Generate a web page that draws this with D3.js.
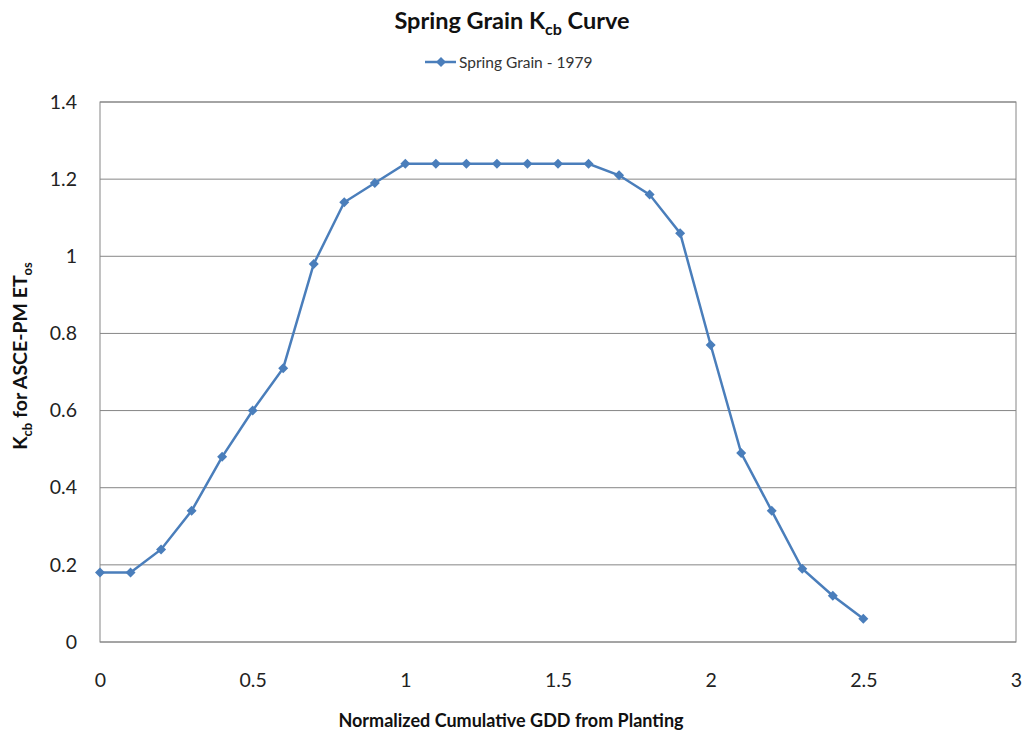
<!DOCTYPE html>
<html><head><meta charset="utf-8">
<script src="https://cdn.jsdelivr.net/npm/d3@7"></script>
<style>body{margin:0;background:#fff;}svg{font-family:Lato,"Open Sans",sans-serif;}</style>
</head><body><svg id="c" width="1023" height="736"></svg>
<script>
const xValues = [0,0.1,0.2,0.3,0.4,0.5,0.6,0.7,0.8,0.9,1.0,1.1,1.2,1.3,1.4,1.5,1.6,1.7,1.8,1.9,2.0,2.1,2.2,2.3,2.4,2.5];
const kcbValues = [0.18,0.18,0.24,0.34,0.48,0.60,0.71,0.98,1.14,1.19,1.24,1.24,1.24,1.24,1.24,1.24,1.24,1.21,1.16,1.06,0.77,0.49,0.34,0.19,0.12,0.06];
const xTicks = [0,0.5,1,1.5,2,2.5,3];
const yTicks = [0,0.2,0.4,0.6,0.8,1,1.2,1.4];
const seriesName = "Spring Grain - 1979";

const svg = d3.select("#c");
const L=100,R=1016,T=102,B=642;
const x = d3.scaleLinear().domain([0,3]).range([L,R]);
const y = d3.scaleLinear().domain([0,1.4]).range([B,T]);
const color="#4a7ebb";

// gridlines
svg.append("g").selectAll("line").data(yTicks).join("line")
  .attr("x1",L).attr("x2",R).attr("y1",d=>y(d)).attr("y2",d=>y(d))
  .attr("stroke","#868686").attr("stroke-width",1);
svg.append("rect").attr("x",L).attr("y",T).attr("width",R-L).attr("height",B-T)
  .attr("fill","none").attr("stroke","#868686").attr("stroke-width",1);

// axes
const ya = svg.append("g").attr("transform",`translate(${L},0)`)
  .call(d3.axisLeft(y).tickValues(yTicks).tickSize(0).tickPadding(23).tickFormat(d=>String(+d.toFixed(1))));
ya.select(".domain").remove();
ya.selectAll("text").attr("font-size",19.5).attr("fill","#222").attr("font-family","Lato,'Open Sans',sans-serif");
const xa = svg.append("g").attr("transform",`translate(0,${B})`)
  .call(d3.axisBottom(x).tickValues(xTicks).tickSize(0).tickPadding(31).tickFormat(d=>String(d)));
xa.select(".domain").remove();
xa.selectAll("text").attr("font-size",19.5).attr("fill","#222").attr("font-family","Lato,'Open Sans',sans-serif");

// line
const data = xValues.map((v,i)=>({x:v,y:kcbValues[i]}));
svg.append("path").datum(data).attr("fill","none").attr("stroke",color).attr("stroke-width",2.5)
  .attr("d",d3.line().x(d=>x(d.x)).y(d=>y(d.y)));
const diamond = "M0,-5L5,0L0,5L-5,0Z";
svg.append("g").selectAll("path").data(data).join("path")
  .attr("transform",d=>`translate(${x(d.x)},${y(d.y)})`).attr("d",diamond).attr("fill",color);

// title
const t = svg.append("text").attr("x",512).attr("y",29).attr("text-anchor","middle")
  .attr("font-size",23.5).attr("font-weight","bold").attr("fill","#111");
t.append("tspan").text("Spring Grain K");
t.append("tspan").attr("font-size",16).attr("dy",6).text("cb");
t.append("tspan").attr("dy",-6).text(" Curve");

// legend
svg.append("line").attr("x1",425).attr("x2",456).attr("y1",62).attr("y2",62).attr("stroke",color).attr("stroke-width",2.5);
svg.append("path").attr("transform","translate(441,62)").attr("d",diamond).attr("fill",color);
svg.append("text").attr("x",459).attr("y",68).attr("font-size",15.5).attr("fill","#333").text(seriesName);

// axis titles
const yt = svg.append("text").attr("transform","translate(27,356) rotate(-90)").attr("text-anchor","middle")
  .attr("font-size",19.5).attr("font-weight","bold").attr("fill","#111");
yt.append("tspan").text("K");
yt.append("tspan").attr("font-size",13).attr("dy",5).text("cb");
yt.append("tspan").attr("dy",-5).text(" for ASCE-PM ET");
yt.append("tspan").attr("font-size",13).attr("dy",5).text("os");

svg.append("text").attr("x",511).attr("y",727).attr("text-anchor","middle")
  .attr("font-size",18).attr("font-weight","bold").attr("fill","#111")
  .text("Normalized Cumulative GDD from Planting");
</script></body></html>
